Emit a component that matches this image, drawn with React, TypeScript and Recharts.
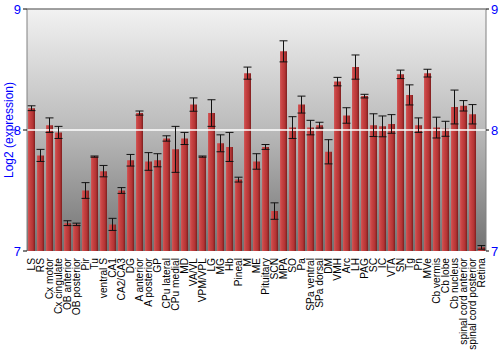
import React from 'react';
import {
  ComposedChart,
  Bar,
  ErrorBar,
  XAxis,
  YAxis,
  CartesianGrid,
  ReferenceLine,
} from 'recharts';

const REGIONS: string[] = [
  'LS', 'RS', 'Cx motor', 'Cx cingulate', 'OB anterior', 'OB posterior', 'Pir', 'Tu',
  'ventral S', 'CA1', 'CA2/CA3', 'DG', 'A anterior', 'A posterior', 'GP', 'CPu lateral',
  'CPu medial', 'MD', 'VA/VL', 'VPM/VPL', 'LG', 'MG', 'Hb', 'Pineal', 'M', 'ME',
  'Pituitary', 'SCN', 'MPA', 'SO', 'Pa', 'SPa ventral', 'SPa dorsal', 'DM', 'VMH', 'Arc',
  'LH', 'PAG', 'SC', 'IC', 'VTA', 'SN', 'Tg', 'Pn', 'MVe', 'Cb vermis', 'Cb lobe',
  'Cb nucleus', 'spinal cord anterior', 'spinal cord posterior', 'Retina',
];

const EXPRESSION: number[] = [
  8.18, 7.79, 8.04, 7.98, 7.23, 7.22, 7.5, 7.78,
  7.66, 7.22, 7.5, 7.75, 8.14, 7.74, 7.75, 7.93,
  7.84, 7.93, 8.21, 7.78, 8.14, 7.89, 7.86, 7.59, 8.47, 7.74,
  7.86, 7.33, 8.65, 8.02, 8.21, 8.02, 8.04, 7.82, 8.4, 8.12,
  8.52, 8.28, 8.04, 8.03, 8.05, 8.46, 8.29, 8.04, 8.47, 8.02, 8.01,
  8.19, 8.2, 8.13, 7.03,
];

const STD_ERR: number[] = [
  0.02, 0.05, 0.06, 0.05, 0.02, 0.01, 0.065, 0.005,
  0.047, 0.05, 0.024, 0.048, 0.017, 0.073, 0.054, 0.022,
  0.19, 0.05, 0.055, 0.005, 0.11, 0.07, 0.12, 0.02, 0.05, 0.064,
  0.02, 0.068, 0.087, 0.09, 0.07, 0.06, 0.024, 0.1, 0.035, 0.064,
  0.1, 0.015, 0.094, 0.086, 0.077, 0.035, 0.083, 0.06, 0.032, 0.086, 0.062,
  0.14, 0.043, 0.08, 0.015,
];

const Y_TICKS = [7, 8, 9];

const data = REGIONS.map((name, i) => ({ name, value: EXPRESSION[i], err: STD_ERR[i] }));

const FONT = '"Liberation Sans", Arial, sans-serif';

const RegionTick = (props: any) => {
  const { x, y, payload } = props;
  return (
    <text
      x={x}
      y={y}
      dy={3.5}
      transform={`rotate(-90 ${x} ${y})`}
      textAnchor="end"
      fontSize={10.2}
      fontFamily={FONT}
      fill="#000"
    >
      {payload.value}
    </text>
  );
};

export default function App() {
  return (
    <div style={{ position: 'absolute', left: 0, top: 0, width: 500, height: 350, background: '#fff' }}>
      <ComposedChart
        width={500}
        height={350}
        data={data}
        margin={{ top: 9, right: 0, left: 0, bottom: 0 }}
        barCategoryGap={1}
      >
        <defs>
          <linearGradient id="bgGrad" x1="0" y1="0" x2="0" y2="1">
            <stop offset="0%" stopColor="#f2f2f2" />
            <stop offset="50%" stopColor="#bababa" />
            <stop offset="100%" stopColor="#727272" />
          </linearGradient>
          <linearGradient id="barGrad" x1="0" y1="0" x2="1" y2="0">
            <stop offset="0%" stopColor="#cf5a5a" />
            <stop offset="25%" stopColor="#c94343" />
            <stop offset="70%" stopColor="#b33434" />
            <stop offset="100%" stopColor="#7c1e1e" />
          </linearGradient>
        </defs>
        <CartesianGrid fill="url(#bgGrad)" horizontal={false} vertical={false} yAxisId="left" />
        <XAxis
          dataKey="name"
          interval={0}
          tickLine={false}
          axisLine={false}
          tickMargin={1}
          height={99}
          tick={<RegionTick />}
        />
        <YAxis
          yAxisId="left"
          domain={[7, 9]}
          ticks={Y_TICKS}
          allowDataOverflow
          width={27}
          stroke="#808080"
          tickSize={4}
          tickLine={{ stroke: '#000' }}
          tick={{ fill: '#0000ff', fontSize: 13, fontFamily: FONT }}
          label={{
            value: 'Log2 (expression)',
            angle: -90,
            position: 'insideLeft',
            offset: 9,
            style: { fill: '#0000ff', fontSize: 12, fontFamily: FONT, textAnchor: 'middle' },
          }}
        />
        <YAxis
          yAxisId="right"
          orientation="right"
          domain={[7, 9]}
          ticks={Y_TICKS}
          allowDataOverflow
          width={14}
          stroke="#808080"
          tickSize={3}
          tickLine={{ stroke: '#000' }}
          tick={{ fill: '#0000ff', fontSize: 13, fontFamily: FONT }}
        />
        <ReferenceLine yAxisId="left" y={8} stroke="#ffffff" strokeWidth={1.5} />
        <ReferenceLine yAxisId="left" y={9} stroke="#808080" strokeWidth={1.5} />
        <Bar yAxisId="left" dataKey="value" fill="url(#barGrad)" isAnimationActive={false}>
          <ErrorBar dataKey="err" width={4} stroke="#111" strokeWidth={1} direction="y" />
        </Bar>
      </ComposedChart>
    </div>
  );
}
